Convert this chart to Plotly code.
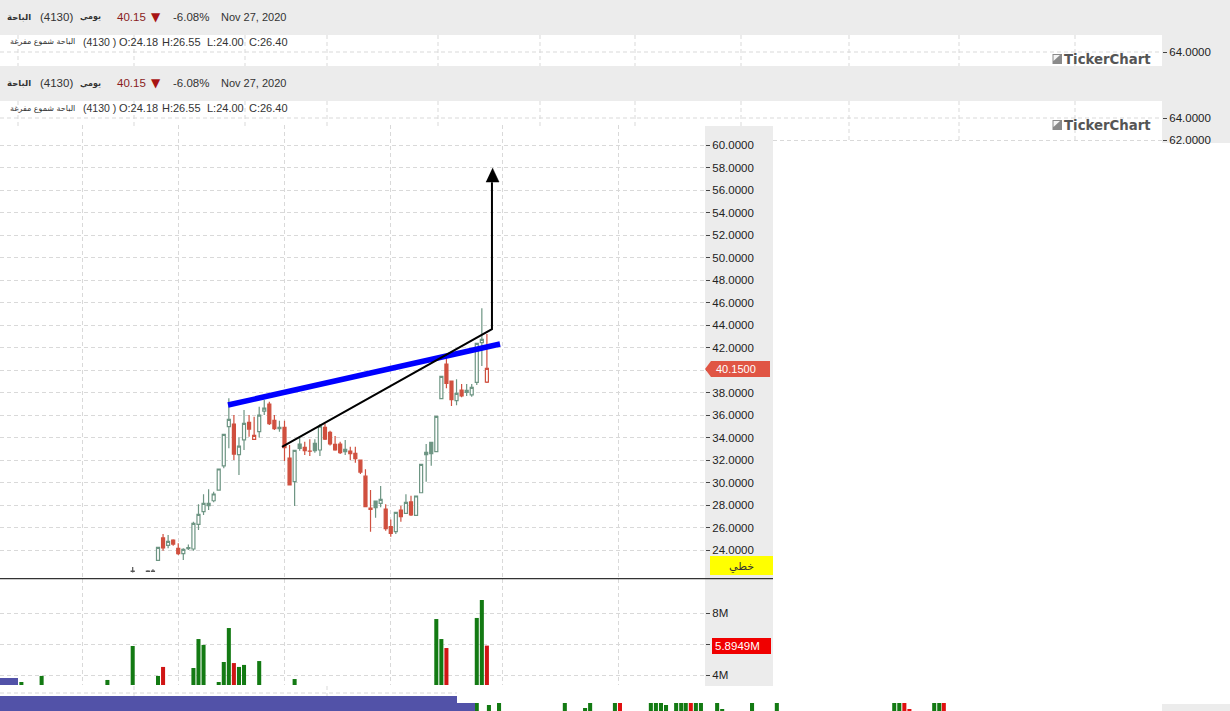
import plotly.graph_objects as go

W = 1230
H = 711
# the photographed page comes out a little squashed vertically, so draw slightly taller
LAYOUT_H = 714

# candles: day index on the chart, OHLC, and how the candle body is drawn
candle_index = [-5, -2, -1] + list(range(66))
open_prices = [22.1, 22.1, 22.1,
    23.08, 25.07, 24.41, 24.89, 24.15, 23.67, 24.12, 24.09, 26.28, 27.41, 27.94, 28.38, 29.33, 31.47, 34.96, 35.2,
    32.47, 33.78, 35.35, 33.84, 34.52, 36.35, 36.98, 35.52, 34.78, 34.9, 32.18, 30.07, 33.03, 33.12, 32.8, 32.83,
    32.89, 34.9, 34.46, 33.39, 33.42, 32.74, 32.8, 32.59, 31.99, 30.56, 27.72, 27.76, 28.15, 27.64, 26.07, 25.63,
    27.55, 27.26, 28.27, 27.08, 29.09, 32.47, 32.56, 32.74, 37.45, 40.53, 39.02, 37.27, 38.22, 38.01, 37.78, 38.9,
    42.43, 38.93]
high_prices = [22.5, 22.2, 22.3,
    24.3, 25.42, 25.33, 24.95, 24.59, 24.15, 24.5, 26.52, 28.06, 28.95, 29.39, 29.18, 31.2, 34.28, 37.48, 36.0,
    34.0, 36.44, 36.0, 35.85, 36.74, 37.33, 37.18, 36.0, 35.5, 35.5, 33.33, 32.86, 34.07, 33.63, 33.84, 33.84,
    35.2, 35.25, 34.6, 34.13, 33.63, 33.78, 33.18, 33.18, 31.99, 31.17, 29.33, 28.35, 29.69, 28.06, 26.72, 27.35,
    27.94, 28.95, 28.83, 28.8, 31.61, 33.42, 33.57, 35.88, 39.43, 41.18, 39.02, 39.17, 38.75, 38.75, 38.75, 42.37,
    45.48, 43.2]
low_prices = [22.0, 22.05, 22.05,
    23.05, 23.94, 24.15, 24.38, 23.55, 23.11, 24.0, 23.94, 25.78, 27.11, 27.55, 28.24, 29.3, 31.26, 33.04, 32.0,
    30.67, 32.89, 34.07, 33.78, 34.0, 36.0, 35.11, 34.67, 34.52, 31.91, 29.78, 27.91, 32.83, 32.44, 32.35, 32.65,
    32.35, 33.78, 33.3, 32.83, 32.53, 32.44, 32.0, 31.76, 30.75, 27.85, 25.63, 26.87, 27.79, 25.72, 25.18, 25.42,
    26.52, 27.26, 27.02, 27.08, 29.09, 30.07, 31.49, 32.74, 37.45, 38.37, 36.8, 36.86, 37.57, 37.69, 37.63, 38.66,
    40.35, 38.85]
close_prices = [22.12, 22.12, 22.12,
    24.24, 24.18, 24.77, 24.53, 23.67, 24.06, 24.21, 26.37, 27.17, 28.15, 28.15, 28.98, 31.2, 34.28, 35.61, 32.53,
    33.24, 35.26, 34.75, 34.19, 35.99, 36.62, 35.23, 34.78, 34.9, 33.09, 29.78, 32.86, 33.42, 32.83, 32.78, 33.48,
    35.0, 33.86, 33.42, 32.89, 32.65, 32.95, 32.56, 32.12, 30.93, 27.85, 27.62, 28.35, 28.5, 25.89, 25.48, 27.35,
    26.96, 28.24, 27.11, 28.8, 31.61, 32.68, 33.57, 35.88, 39.43, 38.81, 37.36, 37.92, 37.69, 38.19, 38.46, 42.37,
    42.72, 40.15]
candle_styles = list("kkk" "ududduuuuuuuuuud" "uudhuuddudduf" "ddf" "uddddfdddddfuddu" "duduuufuudd" "udfuu" "uh")

# the two drawn lines on the price panel
blue_line_index = [13.83, 67.6]
blue_line_price = [36.89, 42.31]
black_line_index = [24.5, 66, 66]
black_line_price = [33.16, 43.64, 56.7]
arrow_index = [64.8, 67.4, 66.1]
arrow_price = [56.71, 56.71, 57.96]

# volume panel, in millions
volume_index = [-27, -23, -10, -5, 0, 1, 7, 8, 9, 12, 13, 14, 15, 16, 17, 20, 27, 55, 56, 57, 63, 64, 65]
volume_values = [3.55, 3.94, 3.68, 5.87, 3.94, 4.52, 4.45, 6.32, 5.94, 3.55, 4.84, 7.03, 4.77, 4.52, 4.65, 4.9, 3.74,
                 7.61, 6.32, 5.74, 7.68, 8.84, 5.8949]
volume_down = [15, 1, 57, 65]

# the cut off volume bars at the very bottom of the window
strip_index = [63, 65.4, 67.4, 80.4, 84.4, 85.4, 90.3, 91.3, 97.4, 98.4, 99.4, 100.4, 102.4, 103.4, 104.3, 105.3,
               106.3, 107.3, 110.5, 111.5, 117.4, 122.3, 145.5, 146.5, 147.5, 148.5, 153.4, 154.4, 155.3]
strip_values = [8, 6, 8, 8, 3, 8, 8, 8, 8, 8, 8, 6, 8, 8, 8, 8, 8, 8, 8, 2, 8, 8, 8, 8, 8, 2, 8, 8, 8]
strip_down = [91.3, 105.3, 147.5, 148.5, 155.3]

month_ticks = [-15, 4, 25, 46, 68, 91]
price_ticks = list(range(24, 62, 2))
last_price = 40.15
last_volume = 5.8949

GREEN_LINE = "#6d9583"
RED = "#d0503f"
GRID = "#d9d9d9"
PANEL = "#ececec"


def px(x):
    return x / W


def py(y):
    return 1 - y / H


def rect(x0, y0, x1, y1, color, layer="below"):
    return dict(type="rect", xref="paper", yref="paper", x0=px(x0), x1=px(x1), y0=py(y0), y1=py(y1),
                fillcolor=color, line_width=0, layer=layer)


def dash(x0, y0, x1, y1):
    return dict(type="line", xref="paper", yref="paper", x0=px(x0), x1=px(x1), y0=py(y0), y1=py(y1),
                line=dict(color=GRID, width=1, dash="4px,3px"), layer="below")


def note(x, y, text, size=11, color="#333333", anchor="left", family="Liberation Sans"):
    return dict(x=px(x), y=py(y), xref="paper", yref="paper", text=text, showarrow=False, xanchor=anchor,
                yanchor="middle", font=dict(family=family, size=size, color=color), borderpad=0)


def candle_trace(style, line_color, fill_color):
    keep = [i for i, s in enumerate(candle_styles) if s == style]
    return go.Candlestick(
        x=[candle_index[i] for i in keep],
        open=[open_prices[i] for i in keep],
        high=[high_prices[i] for i in keep],
        low=[low_prices[i] for i in keep],
        close=[close_prices[i] for i in keep],
        whiskerwidth=0,
        increasing=dict(line=dict(color=line_color, width=1.2), fillcolor=fill_color),
        decreasing=dict(line=dict(color=line_color, width=1.2), fillcolor=fill_color),
        hoverinfo="skip",
    )


fig = go.Figure()
fig.add_trace(candle_trace("u", GREEN_LINE, "#ffffff"))
fig.add_trace(candle_trace("d", RED, RED))
fig.add_trace(candle_trace("h", RED, "#ffffff"))
fig.add_trace(candle_trace("f", GREEN_LINE, GREEN_LINE))
fig.add_trace(candle_trace("k", "#555555", "#555555"))

fig.add_trace(go.Scatter(x=blue_line_index, y=blue_line_price, mode="lines", line=dict(color="#0000ff", width=5.5)))
fig.add_trace(go.Scatter(x=black_line_index, y=black_line_price, mode="lines", line=dict(color="#000000", width=2)))
fig.add_trace(go.Scatter(x=arrow_index, y=arrow_price, mode="lines", fill="toself", fillcolor="#000000",
                         line=dict(color="#000000", width=0.5)))

fig.add_trace(go.Bar(x=volume_index, y=volume_values, width=0.8, xaxis="x2", yaxis="y2",
                     marker=dict(line_width=0, color=["#d01515" if i in volume_down else "#137a13" for i in volume_index])))
fig.add_trace(go.Bar(x=strip_index, y=strip_values, width=0.8, xaxis="x3", yaxis="y3",
                     marker=dict(line_width=0, color=["#e01010" if i in strip_down else "#137a13" for i in strip_index])))

# empty traces so that the two leftover axes at the top get drawn
fig.add_trace(go.Scatter(x=[None], y=[None], xaxis="x4", yaxis="y4"))
fig.add_trace(go.Scatter(x=[None], y=[None], xaxis="x5", yaxis="y5"))

x_range = [-158 / 5.06, 547 / 5.06]
grid_x = dict(domain=[0, px(705)], range=x_range, type="linear", tickmode="array", tickvals=month_ticks,
              showticklabels=False, ticks="", showgrid=True, gridcolor=GRID, griddash="4px,3px", gridwidth=1,
              zeroline=False, showline=False, rangeslider=dict(visible=False))
tick_font = dict(family="Liberation Sans", size=11.5, color="#222222")

shapes = [
    rect(0, 0, 1162, 35, PANEL),
    rect(0, 66, 1162, 101, PANEL),
    rect(1162, 0, 1230, 143, PANEL),
    rect(705, 126, 773, 686, PANEL),
    rect(1162, 704, 1230, 711, PANEL),
    dash(0, 52, 1162, 52),
    dash(0, 118, 1162, 118),
    dash(773, 140.5, 1162, 140.5),
    dash(0, 693, 457, 693),
    dash(134, 686, 134, 696),
    dash(327, 686, 327, 696),
]
for x in [18, 134, 245, 327, 438, 540, 635, 741, 849, 959, 1075]:
    shapes.append(dash(x, 35, x, 66))
    shapes.append(dash(x, 101, x, 143 if x > 773 else 128))
shapes += [
    rect(710, 556, 773, 575, "#ffff00", "above"),
    rect(0, 678, 18, 685, "#5252a8", "above"),
    rect(0, 696, 457, 711, "#5252a8", "above"),
    rect(457, 703, 475, 711, "#5252a8", "above"),
    rect(712, 638, 771, 654, "#f00000", "above"),
    rect(0, 578, 773, 579.2, "#333333", "above"),
    dict(type="path", xref="paper", yref="paper", fillcolor="#e05544", line_width=0, layer="above",
         path=f"M {px(705)} {py(369)} L {px(711)} {py(361)} L {px(770)} {py(361)} L {px(770)} {py(377)} L {px(711)} {py(377)} Z"),
]
for y in [59, 125]:
    shapes.append(rect(1052.5, y - 5, 1062, y + 5, "#8a8a8a", "above"))
    shapes.append(dict(type="path", xref="paper", yref="paper", fillcolor="#f4f4f4", line_width=0, layer="above",
                       path=f"M {px(1053.5)} {py(y - 4)} L {px(1060)} {py(y - 4)} L {px(1053.5)} {py(y + 2)} Z"))

annotations = [
    note(715, 369, f"{last_price:.4f}", color="#ffffff"),
    note(741, 566, "خطي", size=11, color="#333333", anchor="center", family="DejaVu Sans"),
    note(714, 646, f"{last_volume:.4f}M", color="#ffffff", size=11.5),
]
for y in [59, 125]:
    annotations.append(note(1063, y, "<b>TickerChart</b>", size=13.3, color="#555555", family="DejaVu Sans"))
for y in [17, 83]:
    annotations += [
        note(32, y, "<b>الباحة</b>", anchor="right", size=8.5, family="DejaVu Sans"),
        note(39, y, "(4130)", size=11.5),
        note(102, y, "<b>يومي</b>", anchor="right", size=8, family="DejaVu Sans"),
        note(116, y, f"{last_price}", color="#8a1c1c", size=11.5),
        note(150, y, "▼", color="#a81414", size=12, family="DejaVu Sans"),
        note(172, y, "-6.08%", size=11.5),
        note(220, y, "Nov 27, 2020", size=11),
    ]
for y in [42, 108]:
    annotations += [
        note(76, y, "الباحة شموع مفرغة", anchor="right", size=8, family="DejaVu Sans"),
        note(82, y, "(4130 )", size=10.5),
        note(118, y, "O:24.18", size=11),
        note(161, y, "H:26.55", size=11),
        note(206, y, "L:24.00", size=11),
        note(248, y, "C:26.40", size=11),
    ]

fig.update_layout(
    width=W,
    height=LAYOUT_H,
    autosize=False,
    margin=dict(l=0, r=0, t=0, b=0),
    paper_bgcolor="#ffffff",
    plot_bgcolor="rgba(0,0,0,0)",
    showlegend=False,
    hovermode=False,
    barmode="overlay",
    boxgap=0.15,
    xaxis=grid_x,
    # the 40 label sits under the last price tag in the original
    yaxis=dict(domain=[py(578), py(125)], range=[60 - 433 / 11.25, 60 + 20 / 11.25], side="right", tickmode="array",
               tickvals=price_ticks, ticktext=["" if v == 40 else f"{v:.4f}" for v in price_ticks], ticks="outside",
               ticklen=4, tickcolor="#444444", tickfont=tick_font, showgrid=True, gridcolor=GRID, griddash="4px,3px",
               zeroline=False, anchor="x"),
    xaxis2=grid_x | dict(anchor="y2"),
    yaxis2=dict(domain=[py(685), py(579)], range=[4 - 10 / 15.5, 4 + 96 / 15.5], side="right", tickmode="array",
                tickvals=[4, 6, 8], ticktext=["4M", "", "8M"], ticks="outside", ticklen=4, tickcolor="#444444",
                tickfont=tick_font, showgrid=True, gridcolor=GRID, griddash="4px,3px", zeroline=False, anchor="x2"),
    xaxis3=dict(domain=[0, 1], range=[-158 / 5.06, 1072 / 5.06], visible=False, anchor="y3"),
    yaxis3=dict(domain=[0, py(703)], range=[0, 8], visible=False, anchor="x3"),
    xaxis4=dict(domain=[0, px(1162)], range=[0, 1], visible=False, anchor="y4"),
    yaxis4=dict(domain=[py(66), py(35)], range=[64 - 14 / 11, 64 + 17 / 11], side="right", tickmode="array",
                tickvals=[64], ticktext=["64.0000"], ticks="outside", ticklen=4, tickcolor="#444444",
                tickfont=tick_font, showgrid=False, zeroline=False, anchor="x4"),
    xaxis5=dict(domain=[0, px(1162)], range=[0, 1], visible=False, anchor="y5"),
    yaxis5=dict(domain=[py(143), py(101)], range=[64 - 25 / 11, 64 + 17 / 11], side="right", tickmode="array",
                tickvals=[64, 62], ticktext=["64.0000", "62.0000"], ticks="outside", ticklen=4, tickcolor="#444444",
                tickfont=tick_font, showgrid=False, zeroline=False, anchor="x5"),
    shapes=shapes,
    annotations=annotations,
)

# the browser's default body margin would push the whole chart 8px in
fig.write_html("out.html", config=dict(displayModeBar=False), post_script="document.body.style.margin='0';")
